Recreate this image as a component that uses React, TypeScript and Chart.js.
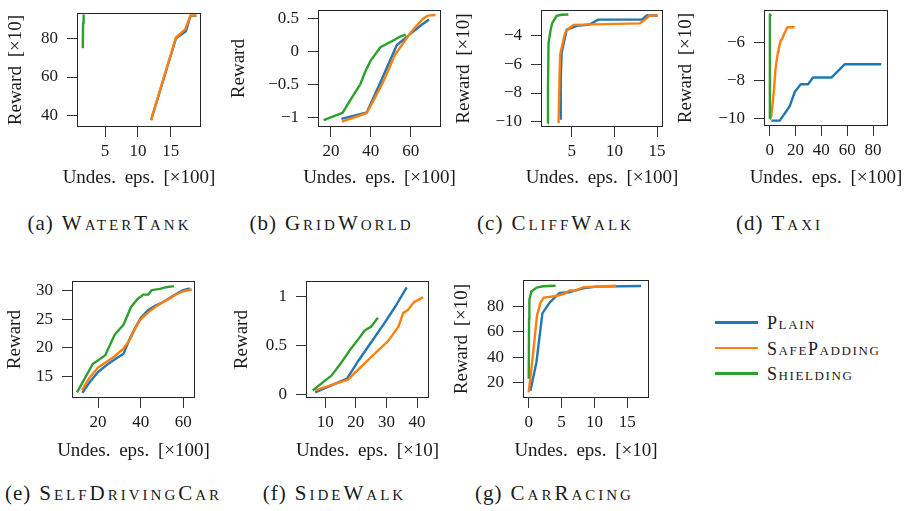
import React, { useEffect, useRef } from 'react';
import { Chart, registerables } from 'chart.js';

Chart.register(...registerables);

// ---------- data (x = undesired episodes, y = reward) ----------
const waterTankPlain = [[12, 37.6], [15.8, 80.2], [17.3, 83.8], [18.0, 91.8], [18.9, 91.8]];
const waterTankSafe = [[12, 37.6], [15.8, 80.6], [17.2, 84.8], [18.0, 92], [18.9, 92]];
const waterTankShield = [[1.62, 75], [1.66, 88], [1.75, 92.5]];

const gridWorldPlain = [[25.2, -1.02], [38, -0.92], [45, -0.45], [53, 0.1], [59.7, 0.27], [65, 0.4], [69.2, 0.49]];
const gridWorldSafe = [[25.5, -1.06], [38, -0.93], [42, -0.7], [45.5, -0.5], [48.5, -0.3], [52, -0.05], [55.5, 0.1], [59.7, 0.28], [63, 0.4], [66, 0.5], [68.5, 0.55], [72.5, 0.56]];
const gridWorldShield = [[16.3, -1.04], [25.8, -0.93], [30, -0.72], [34.6, -0.5], [37.5, -0.28], [40, -0.13], [44.8, 0.07], [50.5, 0.16], [54.6, 0.23], [57.5, 0.26]];

const cliffWalkPlain = [[3.63, -9.8], [3.7, -7], [3.8, -5.2], [4.4, -3.56], [5.6, -3.3], [7.1, -3.2], [8.1, -2.86], [13.2, -2.86], [13.8, -2.57], [15.1, -2.57]];
const cliffWalkSafe = [[3.44, -10.1], [3.55, -7], [3.63, -5.3], [4.2, -3.8], [4.6, -3.5], [5.2, -3.23], [13.0, -3.12], [13.5, -2.9], [14.15, -2.57], [15.1, -2.57]];
const cliffWalkShield = [[2.15, -10.1], [2.2, -7.5], [2.27, -4.45], [2.5, -3.6], [2.7, -3.1], [3.2, -2.6], [3.8, -2.52], [4.6, -2.5]];

const taxiPlain = [[1.3, -10.1], [7.8, -10.1], [15.5, -9.35], [19.4, -8.6], [24, -8.2], [29.7, -8.2], [33.6, -7.85], [47.8, -7.85], [58.2, -7.15], [86.4, -7.15]];
const taxiSafe = [[0.5, -10.0], [1.3, -9.84], [3.4, -8.45], [4.4, -7.47], [5.2, -7.06], [6.5, -6.49], [7, -6.33], [8.5, -5.92], [9.6, -5.83], [11.1, -5.59], [13.7, -5.22], [19.4, -5.22]];
const taxiShield = [[0, -10], [0.1, -7], [0.2, -4.55], [1, -4.65]];

const selfDrivingPlain = [[12.6, 12.15], [16, 14], [20, 15.8], [25, 17.3], [29, 18.3], [32, 19], [34.5, 21.3], [37, 23.2], [40, 25.2], [43.5, 26.6], [47, 27.4], [50, 27.9], [53, 28.6], [57, 29.5], [60, 30.1], [63, 30.4]];
const selfDrivingSafe = [[12.4, 12.6], [16, 14.8], [20, 16.6], [24, 17.6], [28, 18.6], [32, 19.9], [35, 21.5], [38, 23.8], [40, 25], [43.5, 26.2], [47, 27.2], [50, 27.9], [53, 28.5], [57, 29.4], [60, 29.9], [64, 30.2]];
const selfDrivingShield = [[10.1, 12.25], [17.5, 17.2], [23.3, 18.7], [27.8, 22.3], [32, 24.1], [35.4, 27.1], [38.4, 28.5], [41.2, 29.3], [43.5, 29.3], [45.2, 30.1], [49, 30.3], [52, 30.6], [55.6, 30.8]];

const sideWalkPlain = [[6.7, 0.02], [17.1, 0.16], [21, 0.35], [25, 0.53], [29, 0.71], [33, 0.9], [36.6, 1.09]];
const sideWalkSafe = [[6.7, 0.04], [17.4, 0.15], [21, 0.26], [25, 0.38], [30.6, 0.545], [33.9, 0.69], [35.5, 0.83], [37, 0.86], [39, 0.94], [42, 0.99]];
const sideWalkShield = [[5.9, 0.04], [12, 0.19], [15.4, 0.33], [18.5, 0.47], [21, 0.57], [22.9, 0.65], [25, 0.69], [27.2, 0.78]];

const carRacingPlain = [[0.25, 13.8], [1.17, 36], [2.08, 74.3], [3.2, 83], [4.7, 90.4], [6.2, 90.9], [8.3, 94], [10.3, 95.3], [17.1, 95.8]];
const carRacingSafe = [[0, 12.6], [0.6, 40], [1.27, 73], [1.8, 83], [2.28, 86.7], [4.2, 87.9], [5.5, 89.9], [6.2, 92.3], [7.2, 92.3], [8.3, 94.8], [10.3, 95.3], [13.3, 96]];
const carRacingShield = [[0, 23.2], [0.05, 70], [0.1, 85], [0.4, 91.5], [1.2, 94.5], [2.2, 95.6], [4.1, 96]];

// ---------- tick values ----------
const waterTankXTicks = [5, 10, 15];
const waterTankYTicks = [40, 60, 80];
const gridWorldXTicks = [20, 40, 60];
const gridWorldYTicks = [-1, -0.5, 0, 0.5];
const cliffWalkXTicks = [5, 10, 15];
const cliffWalkYTicks = [-10, -8, -6, -4];
const taxiXTicks = [0, 20, 40, 60, 80];
const taxiYTicks = [-10, -8, -6];
const selfDrivingXTicks = [20, 40, 60];
const selfDrivingYTicks = [15, 20, 25, 30];
const sideWalkXTicks = [10, 20, 30, 40];
const sideWalkYTicks = [0, 0.5, 1];
const carRacingXTicks = [0, 5, 10, 15];
const carRacingYTicks = [20, 40, 60, 80];

const seriesNames = ['Plain', 'SafePadding', 'Shielding'];
const seriesColors = ['#1f77b4', '#ff7f0e', '#2ca02c'];

const captionTags = ['(a)', '(b)', '(c)', '(d)', '(e)', '(f)', '(g)'];
const captionNames = ['WaterTank', 'GridWorld', 'CliffWalk', 'Taxi', 'SelfDrivingCar', 'SideWalk', 'CarRacing'];

// ---------- styling / layout ----------
const FONT = "'Liberation Serif', 'Times New Roman', serif";
const TEXT = '#1a1a1a';
const TICK_SIZE = 17;
const TITLE_SIZE = 19;
const LINE_H = 1.2;
const PAD_TOP = 12;
const PAD_RIGHT = 32;

type PanelCfg = {
  plot: [number, number, number, number];
  x: [number, number];
  y: [number, number];
  xTicks: number[];
  yTicks: number[];
  xTitle: string;
  yTitle: string;
  yTitleX: number;
  xTitleMid: number;
  series: number[][][];
};

const panels: PanelCfg[] = [
  { plot: [77, 6, 201, 127], x: [0.74, 19.6], y: [34.0, 93.2], xTicks: waterTankXTicks, yTicks: waterTankYTicks, xTitle: 'Undes. eps. [×100]', yTitle: 'Reward [×10]', yTitleX: 16, xTitleMid: 178, series: [waterTankPlain, waterTankSafe, waterTankShield] },
  { plot: [318, 3, 441, 127], x: [13.5, 75.2], y: [-1.143, 0.633], xTicks: gridWorldXTicks, yTicks: gridWorldYTicks, xTitle: 'Undes. eps. [×100]', yTitle: 'Reward', yTitleX: 239, xTitleMid: 178, series: [gridWorldPlain, gridWorldSafe, gridWorldShield] },
  { plot: [541, 3, 663, 127], x: [1.38, 15.7], y: [-10.38, -2.2], xTicks: cliffWalkXTicks, yTicks: cliffWalkYTicks, xTitle: 'Undes. eps. [×100]', yTitle: 'Reward [×10]', yTitleX: 464, xTitleMid: 178, series: [cliffWalkPlain, cliffWalkSafe, cliffWalkShield] },
  { plot: [764, 3, 888, 126], x: [-4.4, 91.6], y: [-10.38, -4.33], xTicks: taxiXTicks, yTicks: taxiYTicks, xTitle: 'Undes. eps. [×100]', yTitle: 'Reward [×10]', yTitleX: 686, xTitleMid: 178, series: [taxiPlain, taxiSafe, taxiShield] },
  { plot: [72, 274, 195, 398], x: [7.76, 65.5], y: [11.26, 31.65], xTicks: selfDrivingXTicks, yTicks: selfDrivingYTicks, xTitle: 'Undes. eps. [×100]', yTitle: 'Reward', yTitleX: 15, xTitleMid: 451, series: [selfDrivingPlain, selfDrivingSafe, selfDrivingShield] },
  { plot: [306, 274, 429, 398], x: [3.7, 43.9], y: [-0.038, 1.153], xTicks: sideWalkXTicks, yTicks: sideWalkYTicks, xTitle: 'Undes. eps. [×10]', yTitle: 'Reward', yTitleX: 242, xTitleMid: 451, series: [sideWalkPlain, sideWalkSafe, sideWalkShield] },
  { plot: [523, 273, 649, 398], x: [-0.87, 18.3], y: [8.15, 100.3], xTicks: carRacingXTicks, yTicks: carRacingYTicks, xTitle: 'Undes. eps. [×10]', yTitle: 'Reward [×10]', yTitleX: 462, xTitleMid: 451, series: [carRacingPlain, carRacingSafe, carRacingShield] },
];

const captionPos = [
  { cx: 108, base: 231 }, { cx: 330, base: 231 }, { cx: 554, base: 231 }, { cx: 778, base: 231 },
  { cx: 112, base: 501 }, { cx: 333, base: 501 }, { cx: 553, base: 501 },
];

const fmt = (v: number) => (v < 0 ? '\u2212' + String(Math.abs(v)) : String(v));

const boxPlugin = {
  id: 'axesBox',
  afterDatasetsDraw(chart: any) {
    const { ctx, chartArea: a } = chart;
    ctx.save();
    ctx.strokeStyle = '#262626';
    ctx.lineWidth = 1;
    ctx.strokeRect(Math.round(a.left) + 0.5, Math.round(a.top) + 0.5, Math.round(a.right - a.left) - 1, Math.round(a.bottom - a.top) - 1);
    ctx.restore();
  },
};

const textPlugin = {
  id: 'textTweak',
  beforeDraw(chart: any) {
    const ctx: any = chart.ctx;
    if (!ctx.__patched) {
      const orig = ctx.fillText;
      ctx.fillText = function (t: string, x: number, y: number) {
        return orig.call(this, t, x, y);
      };
      ctx.__patched = true;
    }
    ctx.wordSpacing = '4px';
  },
  afterDraw(chart: any) {
    (chart.ctx as any).wordSpacing = '0px';
  },
};

function PanelChart({ cfg }: { cfg: PanelCfg }) {
  const ref = useRef<HTMLCanvasElement>(null);
  const [L, T, R, B] = cfg.plot;
  const lh = TITLE_SIZE * LINE_H;
  const left = Math.round(cfg.yTitleX - lh / 2);
  const top = T - PAD_TOP;
  const bottom = Math.round(cfg.xTitleMid + lh / 2);
  const yW = L - left;
  const xH = bottom - B;
  const width = yW + (R - L) + PAD_RIGHT;
  const height = bottom - top;

  useEffect(() => {
    const axisCommon = {
      type: 'linear' as const,
      grid: { display: true, drawOnChartArea: false, drawTicks: true, tickLength: 10, color: '#333', lineWidth: 1 },
      border: { display: false },
    };
    const chart = new Chart(ref.current as HTMLCanvasElement, {
      type: 'line',
      data: {
        datasets: cfg.series.map((pts, i) => ({
          label: seriesNames[i],
          data: pts.map((p) => ({ x: p[0], y: p[1] })),
          borderColor: seriesColors[i],
          backgroundColor: seriesColors[i],
          borderWidth: 2.4,
          pointRadius: 0,
          tension: 0,
          fill: false,
          borderJoinStyle: 'round' as const,
          borderCapStyle: 'butt' as const,
          order: 3 - i,
        })),
      },
      options: {
        responsive: false,
        animation: false,
        devicePixelRatio: 1,
        events: [],
        layout: { padding: { top: PAD_TOP, right: PAD_RIGHT, left: 0, bottom: 0 } },
        plugins: { legend: { display: false }, tooltip: { enabled: false } },
        scales: {
          x: {
            ...axisCommon,
            min: cfg.x[0],
            max: cfg.x[1],
            afterFit: (s: any) => { s.height = xH; },
            afterBuildTicks: (s: any) => { s.ticks = cfg.xTicks.map((v) => ({ value: v })); },
            ticks: { autoSkip: false, maxRotation: 0, padding: 4, color: TEXT, font: { family: FONT, size: TICK_SIZE }, callback: (v: any) => fmt(Number(v)) },
            title: { display: true, text: cfg.xTitle, color: TEXT, padding: 0, font: { family: FONT, size: TITLE_SIZE, lineHeight: LINE_H } },
          },
          y: {
            ...axisCommon,
            min: cfg.y[0],
            max: cfg.y[1],
            afterFit: (s: any) => { s.width = yW; },
            afterBuildTicks: (s: any) => { s.ticks = cfg.yTicks.map((v) => ({ value: v })); },
            ticks: { autoSkip: false, padding: 9, color: TEXT, font: { family: FONT, size: TICK_SIZE }, callback: (v: any) => fmt(Number(v)) },
            title: { display: true, text: cfg.yTitle, color: TEXT, padding: 0, font: { family: FONT, size: TITLE_SIZE, lineHeight: LINE_H } },
          },
        },
      } as any,
      plugins: [boxPlugin, textPlugin],
    });
    return () => chart.destroy();
  }, []);

  return (
    <canvas
      ref={ref}
      width={width}
      height={height}
      style={{ position: 'absolute', left, top, width, height }}
    />
  );
}

export default function App() {
  return (
    <div style={{ position: 'absolute', left: 0, top: 0, width: 918, height: 511, background: '#fff', overflow: 'hidden', fontFamily: FONT, color: TEXT }}>
      {captionNames.map((c, i) => (
        <div
          key={c}
          style={{
            position: 'absolute',
            left: captionPos[i].cx - 150,
            top: captionPos[i].base - 17.6,
            width: 300,
            textAlign: 'center',
            fontSize: 21,
            lineHeight: '21px',
            whiteSpace: 'nowrap',
          }}
        >
          <span style={{ letterSpacing: '1px', marginRight: 8 }}>{captionTags[i]}</span>
          <span style={{ fontVariant: 'small-caps', letterSpacing: '3px', marginRight: -3 }}>{c}</span>
        </div>
      ))}
      {seriesNames.map((n, i) => (
        <div key={n} style={{ position: 'absolute', left: 715, top: 314 + i * 25.5, height: 18, whiteSpace: 'nowrap' }}>
          <div style={{ position: 'absolute', left: 0, top: 7, width: 43, height: 2.5, background: seriesColors[i] }} />
          <div style={{ position: 'absolute', left: 52, top: 0, fontSize: 18, lineHeight: '18px', fontVariant: 'small-caps', letterSpacing: '1.6px' }}>{n}</div>
        </div>
      ))}
      {panels.map((p, i) => (
        <PanelChart key={i} cfg={p} />
      ))}
    </div>
  );
}
